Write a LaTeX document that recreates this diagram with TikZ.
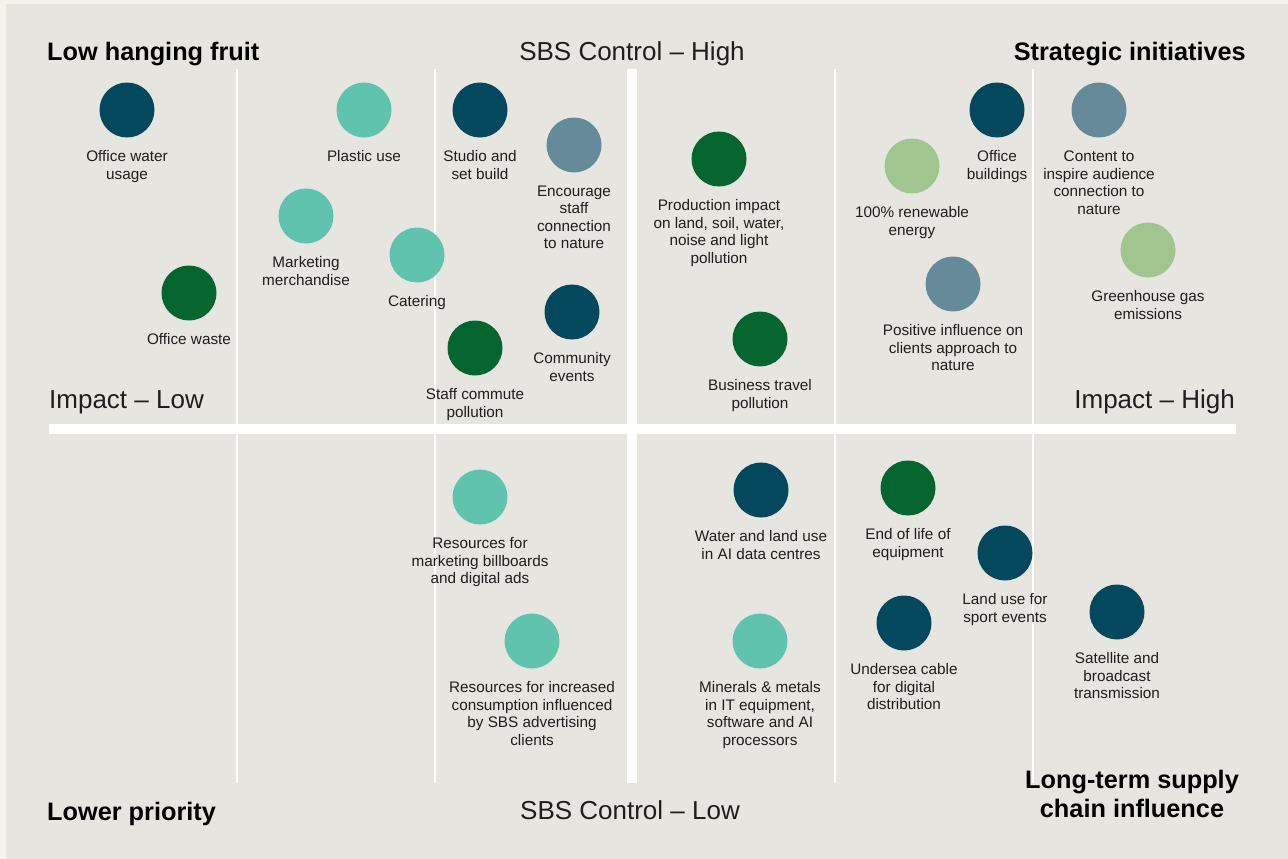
\documentclass[tikz,border=0pt]{standalone}
\usepackage{fontspec}
\setmainfont{Liberation Sans}
\usetikzlibrary{positioning}

\definecolor{paper}{HTML}{F4F3EC}
\definecolor{panel}{HTML}{E6E5E0}
\definecolor{navy}{HTML}{03485C}
\definecolor{mint}{HTML}{60C3AE}
\definecolor{forest}{HTML}{05652F}
\definecolor{slate}{HTML}{658A9A}
\definecolor{sage}{HTML}{A1C58F}
\definecolor{ink}{HTML}{1E1E1E}

\tikzset{
    dot/.style={circle, minimum size=55pt, inner sep=0pt},
    lbl/.style={align=center, inner sep=0pt, text=ink, font=\fontsize{15.3}{17.5}\selectfont},
    head/.style={inner sep=0pt, text=black, font=\fontsize{25.3}{29}\selectfont\bfseries},
    axis/.style={inner sep=0pt, text=ink, font=\fontsize{26}{30}\selectfont},
    grid/.style={white, line width=2pt},
}

\begin{document}
\begin{tikzpicture}[x=1pt, y=-1pt]
    \useasboundingbox (0,0) rectangle (1288,859);
    \fill[paper] (0,0) rectangle (1288,859);
    \fill[panel] (6,4) rectangle (1288,859);

    % thin column lines, then the two axes
    \draw[grid] (237,69) -- (237,783);
    \draw[grid] (435,69) -- (435,783);
    \draw[grid] (835,69) -- (835,783);
    \draw[grid] (1033,69) -- (1033,783);
    \fill[white] (627,69) rectangle (637,783);
    \fill[white] (49,424) rectangle (1236,434);

    % corner titles and axis names
    \node[head, anchor=base west] (lowfruit) at (47,60) {Low hanging fruit};
    \node[head, anchor=base east] (strategic) at (1246,60) {Strategic initiatives};
    \node[head, anchor=base west] (lowprio) at (47,820) {Lower priority};
    \node[head, anchor=north, align=center] (longterm) at (1132,770) {Long-term supply\\chain influence};
    \node[axis, anchor=base] (ctrlhigh) at (632,60) {SBS Control -- High};
    \node[axis, anchor=base] (ctrllow) at (630,819) {SBS Control -- Low};
    \node[axis, anchor=base west] (implow) at (49,408) {Impact -- Low};
    \node[axis, anchor=base east] (imphigh) at (1235,408) {Impact -- High};

    % high control, low impact
    \node[dot, fill=navy] (water) at (127,110) {};
    \node[lbl, below=13pt of water] {Office water\\usage};
    \node[dot, fill=forest] (waste) at (189,293) {};
    \node[lbl, below=13pt of waste] {Office waste};
    \node[dot, fill=mint] (plastic) at (364,110) {};
    \node[lbl, below=13pt of plastic] {Plastic use};
    \node[dot, fill=mint] (merch) at (306,216) {};
    \node[lbl, below=13pt of merch] {Marketing\\merchandise};
    \node[dot, fill=mint] (catering) at (417,255) {};
    \node[lbl, below=13pt of catering] {Catering};
    \node[dot, fill=navy] (studio) at (480,110) {};
    \node[lbl, below=13pt of studio] {Studio and\\set build};
    \node[dot, fill=slate] (staff) at (574,145) {};
    \node[lbl, below=13pt of staff] {Encourage\\staff\\connection\\to nature};
    \node[dot, fill=navy] (community) at (572,312) {};
    \node[lbl, below=13pt of community] {Community\\events};
    \node[dot, fill=forest] (commute) at (475,348) {};
    \node[lbl, below=13pt of commute] {Staff commute\\pollution};

    % high control, high impact
    \node[dot, fill=forest] (production) at (719,159) {};
    \node[lbl, below=13pt of production] {Production impact\\on land, soil, water,\\noise and light\\pollution};
    \node[dot, fill=forest] (travel) at (760,339) {};
    \node[lbl, below=13pt of travel] {Business travel\\pollution};
    \node[dot, fill=navy] (buildings) at (997,110) {};
    \node[lbl, below=13pt of buildings] {Office\\buildings};
    \node[dot, fill=sage] (renewable) at (912,166) {};
    \node[lbl, below=13pt of renewable] {100\% renewable\\energy};
    \node[dot, fill=slate] (content) at (1099,110) {};
    \node[lbl, below=13pt of content] {Content to\\inspire audience\\connection to\\nature};
    \node[dot, fill=slate] (clients) at (953,284) {};
    \node[lbl, below=13pt of clients] {Positive influence on\\clients approach to\\nature};
    \node[dot, fill=sage] (ghg) at (1148,250) {};
    \node[lbl, below=13pt of ghg] {Greenhouse gas\\emissions};

    % low control, low impact
    \node[dot, fill=mint] (billboards) at (480,497) {};
    \node[lbl, below=13pt of billboards] {Resources for\\marketing billboards\\and digital ads};
    \node[dot, fill=mint] (consumption) at (532,641) {};
    \node[lbl, below=13pt of consumption] {Resources for increased\\consumption influenced\\by SBS advertising\\clients};

    % low control, high impact
    \node[dot, fill=navy] (datacentres) at (761,490) {};
    \node[lbl, below=13pt of datacentres] {Water and land use\\in AI data centres};
    \node[dot, fill=mint] (minerals) at (760,641) {};
    \node[lbl, below=13pt of minerals] {Minerals \& metals\\in IT equipment,\\software and AI\\processors};
    \node[dot, fill=forest] (endoflife) at (908,488) {};
    \node[lbl, below=13pt of endoflife] {End of life of\\equipment};
    \node[dot, fill=navy] (sport) at (1005,553) {};
    \node[lbl, below=13pt of sport] {Land use for\\sport events};
    \node[dot, fill=navy] (cable) at (904,623) {};
    \node[lbl, below=13pt of cable] {Undersea cable\\for digital\\distribution};
    \node[dot, fill=navy] (satellite) at (1117,612) {};
    \node[lbl, below=13pt of satellite] {Satellite and\\broadcast\\transmission};
\end{tikzpicture}
\end{document}
